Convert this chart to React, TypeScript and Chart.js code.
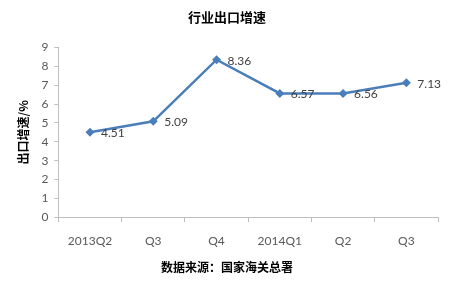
import React, { useEffect, useRef } from "react";
import { Chart, registerables } from "chart.js";

Chart.register(...registerables);

const categories = ["2013Q2", "Q3", "Q4", "2014Q1", "Q2", "Q3"];
const exportGrowth = [4.51, 5.09, 8.36, 6.57, 6.56, 7.13];
const yTicks = [0, 1, 2, 3, 4, 5, 6, 7, 8, 9];
const titleText = "行业出口增速";
const footerText = "数据来源：国家海关总署";
const yTitle = "出口增速/%";

const cjk = '"Noto Sans CJK SC", sans-serif';
const num = 'Lato, "Liberation Sans", sans-serif';

const labelPlugin = {
  id: "pointLabels",
  afterDatasetsDraw(chart: any) {
    const ctx = chart.ctx;
    const meta = chart.getDatasetMeta(0);
    ctx.save();
    ctx.font = `12px ${num}`;
    ctx.fillStyle = "#404040";
    ctx.textAlign = "left";
    ctx.textBaseline = "middle";
    meta.data.forEach((pt: any, i: number) => {
      ctx.fillText(exportGrowth[i].toFixed(2), pt.x + 11, pt.y + 1);
    });
    ctx.restore();
  },
};

export default function App() {
  const ref = useRef<HTMLCanvasElement>(null);
  useEffect(() => {
    if (!ref.current) return;
    const chart = new Chart(ref.current, {
      type: "line",
      data: {
        labels: categories,
        datasets: [
          {
            data: exportGrowth,
            borderColor: "#4a7ebb",
            backgroundColor: "#4a7ebb",
            borderWidth: 2.5,
            pointStyle: "rectRot",
            pointRadius: 4.5,
            pointBorderWidth: 0,
            tension: 0,
          },
        ],
      },
      options: {
        responsive: false,
        animation: false,
        layout: { padding: { left: 16, right: 11, top: 0, bottom: 6 } },
        plugins: {
          legend: { display: false },
          tooltip: { enabled: false },
          title: {
            display: true,
            text: titleText,
            color: "#000",
            font: { family: cjk, size: 13, weight: "bold" },
            padding: { top: 9, bottom: 23 },
          },
          subtitle: {
            display: true,
            position: "bottom",
            text: footerText,
            color: "#000",
            font: { family: cjk, size: 12, weight: "bold" },
            padding: { top: 0, bottom: 7 },
          },
        },
        scales: {
          x: {
            type: "category",
            offset: true,
            grid: {
              offset: true,
              drawOnChartArea: false,
              drawTicks: true,
              tickLength: 5,
              color: "#bfbfbf",
            },
            border: { color: "#bfbfbf", width: 1 },
            ticks: {
              color: "#595959",
              font: { family: num, size: 12 },
              padding: 12,
              maxRotation: 0,
            },
          },
          y: {
            min: 0,
            max: 9,
            afterBuildTicks(scale: any) {
              scale.ticks = yTicks.map((v) => ({ value: v }));
            },
            grid: {
              drawOnChartArea: false,
              drawTicks: true,
              tickLength: 4,
              color: "#bfbfbf",
            },
            border: { color: "#bfbfbf", width: 1 },
            ticks: {
              color: "#595959",
              font: { family: num, size: 12 },
              padding: 6,
            },
            title: {
              display: true,
              text: yTitle,
              color: "#000",
              font: { family: cjk, size: 12, weight: "bold" },
              padding: { top: 0, bottom: 5 },
            },
          },
        },
      },
      plugins: [labelPlugin],
    });
    return () => chart.destroy();
  }, []);
  return (
    <div style={{ position: "absolute", left: 0, top: 0, width: 449, height: 288, background: "#fff" }}>
      <canvas ref={ref} width={449} height={288} style={{ width: 449, height: 288 }} />
    </div>
  );
}
